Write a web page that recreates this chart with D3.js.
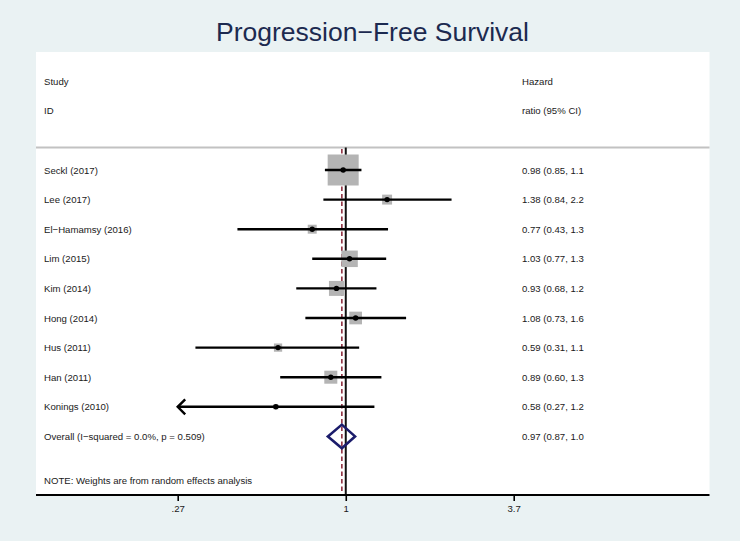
<!DOCTYPE html>
<html>
<head>
<meta charset="utf-8">
<script src="https://cdn.jsdelivr.net/npm/d3@7"></script>
<style>
  html, body { margin: 0; padding: 0; background: #eaf2f3; }
  svg { display: block; }
  text { font-family: "Liberation Sans", Arial, Helvetica, sans-serif; }
</style>
</head>
<body>
<div id="chart"></div>
<script>
// ---- data ----
const studies = ["Seckl (2017)", "Lee (2017)", "El\u2212Hamamsy (2016)", "Lim (2015)", "Kim (2014)",
                 "Hong (2014)", "Hus (2011)", "Han (2011)", "Konings (2010)"];
const hr    = [0.98, 1.38, 0.77, 1.03, 0.93, 1.08, 0.59, 0.89, 0.58];
const lower = [0.85, 0.84, 0.43, 0.77, 0.68, 0.73, 0.31, 0.60, 0.268];
const upper = [1.13, 2.28, 1.39, 1.37, 1.27, 1.60, 1.11, 1.32, 1.25];
const weights = [46.6, 4.8, 3.9, 13.2, 10.9, 7.8, 3.3, 8.2, 1.2];
const ciLabels = ["0.98 (0.85, 1.1", "1.38 (0.84, 2.2", "0.77 (0.43, 1.3", "1.03 (0.77, 1.3",
                  "0.93 (0.68, 1.2", "1.08 (0.73, 1.6", "0.59 (0.31, 1.1", "0.89 (0.60, 1.3",
                  "0.58 (0.27, 1.2"];
const overallLabel = "Overall  (I\u2212squared = 0.0%, p = 0.509)";
const overall = { hr: 0.97, lower: 0.87, upper: 1.075, text: "0.97 (0.87, 1.0" };
const tickValues = [0.27, 1, 3.7];
const tickLabels = [".27", "1", "3.7"];
const title = "Progression\u2212Free Survival";
const note = "NOTE: Weights are from random effects analysis";

// ---- layout ----
const W = 740, H = 541;
const panel = { left: 36, right: 709.5, top: 52, bottom: 495 };
const textColor = "#1a1a1a";
const fs = 9.6;

const svg = d3.select("#chart").append("svg").attr("width", W).attr("height", H);
svg.append("rect").attr("width", W).attr("height", H).attr("fill", "#eaf2f3");
svg.append("rect").attr("x", panel.left).attr("y", panel.top)
  .attr("width", panel.right - panel.left).attr("height", panel.bottom - panel.top)
  .attr("fill", "#ffffff");

// title
svg.append("text").attr("x", 372.5).attr("y", 41).attr("text-anchor", "middle")
  .attr("font-size", 26.5).attr("fill", "#1c2a50").text(title);

// scales
const x = d3.scaleLog().domain([0.27, 3.7]).range([177.7, 513.7]);
const y = d3.scaleLinear().domain([0, 9]).range([170, 436.4]);
const side = d3.scaleSqrt().domain([0, 46.6]).range([0, 31]);

const leftX = 44, rightX = 522;

// header
[["Study", "Hazard", -3], ["ID", "ratio (95% CI)", -2]].forEach(([l, r, i]) => {
  svg.append("text").attr("x", leftX).attr("y", y(i) + 3.5).attr("font-size", fs).attr("fill", textColor).text(l);
  svg.append("text").attr("x", rightX).attr("y", y(i) + 3.5).attr("font-size", fs).attr("fill", textColor).text(r);
});
svg.append("line").attr("x1", panel.left).attr("x2", panel.right)
  .attr("y1", 147.5).attr("y2", 147.5).attr("stroke", "#c2c2c2").attr("stroke-width", 2);

// reference lines (behind boxes)
svg.append("line").attr("x1", x(1)).attr("x2", x(1)).attr("y1", 147.5).attr("y2", panel.bottom)
  .attr("stroke", "#111").attr("stroke-width", 2);
svg.append("line").attr("x1", x(overall.hr)).attr("x2", x(overall.hr)).attr("y1", 149).attr("y2", panel.bottom)
  .attr("stroke", "#8e3040").attr("stroke-width", 1.6).attr("stroke-dasharray", "4.5,3");

// boxes
svg.selectAll("rect.box").data(studies).join("rect").attr("class", "box")
  .attr("x", (d, i) => x(hr[i]) - side(weights[i]) / 2)
  .attr("y", (d, i) => y(i) - side(weights[i]) / 2)
  .attr("width", (d, i) => side(weights[i]))
  .attr("height", (d, i) => side(weights[i]))
  .attr("fill", "#b4b4b4");

// CI lines
const xmin = x.domain()[0];
svg.selectAll("line.ci").data(studies).join("line").attr("class", "ci")
  .attr("x1", (d, i) => x(Math.max(lower[i], xmin)))
  .attr("x2", (d, i) => x(upper[i]))
  .attr("y1", (d, i) => y(i)).attr("y2", (d, i) => y(i))
  .attr("stroke", "#000").attr("stroke-width", 2.4);

// arrows for clipped CIs
studies.forEach((d, i) => {
  if (lower[i] < xmin) {
    const x0 = x(xmin), y0 = y(i);
    svg.append("path").attr("d", `M${x0 + 7.5},${y0 - 7.5}L${x0},${y0}L${x0 + 7.5},${y0 + 7.5}`)
      .attr("fill", "none").attr("stroke", "#000").attr("stroke-width", 2.4);
  }
});

// point estimates
svg.selectAll("circle.pt").data(studies).join("circle").attr("class", "pt")
  .attr("cx", (d, i) => x(hr[i])).attr("cy", (d, i) => y(i)).attr("r", 2.7).attr("fill", "#000");

// overall diamond
const yo = y(9), dh = 11.8;
svg.append("path")
  .attr("d", `M${x(overall.lower)},${yo}L${x(overall.hr)},${yo - dh}L${x(overall.upper)},${yo}L${x(overall.hr)},${yo + dh}Z`)
  .attr("fill", "none").attr("stroke", "#1b1c6b").attr("stroke-width", 2.6);

// row texts
svg.selectAll("text.study").data(studies).join("text").attr("class", "study")
  .attr("x", leftX).attr("y", (d, i) => y(i) + 3.5).attr("font-size", fs).attr("fill", textColor).text(d => d);
svg.selectAll("text.ci").data(ciLabels).join("text").attr("class", "ci")
  .attr("x", rightX).attr("y", (d, i) => y(i) + 3.5).attr("font-size", fs).attr("fill", textColor).text(d => d);
svg.append("text").attr("x", leftX).attr("y", y(9) + 3.5).attr("font-size", fs).attr("fill", textColor).text(overallLabel);
svg.append("text").attr("x", rightX).attr("y", y(9) + 3.5).attr("font-size", fs).attr("fill", textColor).text(overall.text);
svg.append("text").attr("x", leftX).attr("y", y(10.5) + 3.5).attr("font-size", fs).attr("fill", textColor).text(note);

// axis
const axis = d3.axisBottom(x).tickValues(tickValues)
  .tickFormat((d, i) => tickLabels[i]).tickSizeOuter(0).tickSize(6).tickPadding(4);
const gAxis = svg.append("g").attr("transform", `translate(0,${panel.bottom})`).call(axis);
gAxis.select(".domain").remove();
gAxis.selectAll(".tick line").attr("stroke", "#000").attr("stroke-width", 1.6);
gAxis.selectAll(".tick text").attr("font-size", fs).attr("fill", textColor)
  .attr("font-family", "'Liberation Sans', Arial, sans-serif");
svg.append("line").attr("x1", panel.left).attr("x2", panel.right)
  .attr("y1", panel.bottom).attr("y2", panel.bottom).attr("stroke", "#000").attr("stroke-width", 2);
</script>
</body>
</html>
